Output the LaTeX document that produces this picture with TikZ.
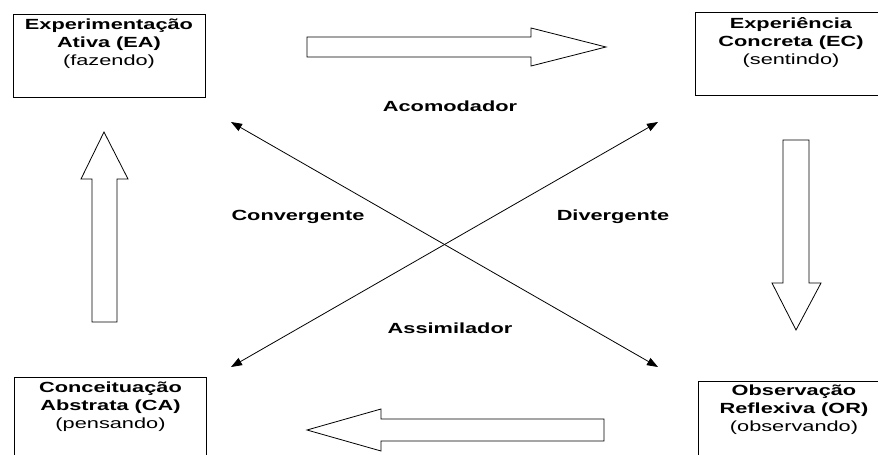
\documentclass[tikz,border=0pt]{standalone}
\usepackage{fontspec}
\setmainfont[FakeStretch=1.48]{Liberation Sans}
\usetikzlibrary{arrows.meta,positioning}

\begin{document}
\begin{tikzpicture}[x=1pt, y=-1pt,
  box/.style={draw, line width=0.8pt, minimum width=192pt, minimum height=83pt, inner sep=0pt},
  boxtext/.style={align=center, inner sep=0pt, font=\fontsize{14.7}{18}\selectfont},
  stage/.style={inner sep=0pt, font=\fontsize{14.7}{18}\selectfont\bfseries},
  bigarrow/.style={draw, line width=0.8pt, fill=white, line join=miter},
  diag/.style={{Triangle[length=11pt,width=8pt]}-{Triangle[length=11pt,width=8pt]}, line width=0.8pt}]
  \useasboundingbox (0,0) rectangle (878,455);

  % the four modes
  \node[box] (EA) at (109,55.5) {};
  \node[box] (EC) at (791,54) {};
  \node[box] (CA) at (110.5,418.5) {};
  \node[box] (OR) at (794,422.5) {};

  \node[boxtext, below=5.5pt of EA.north] (EAtxt) {\textbf{Experimentação}\\\textbf{Ativa (EA)}\\(fazendo)};
  \node[boxtext, below=5pt of EC.north] (ECtxt) {\textbf{Experiência}\\\textbf{Concreta (EC)}\\(sentindo)};
  \node[boxtext, below=5.5pt of CA.north] (CAtxt) {\textbf{Conceituação}\\\textbf{Abstrata (CA)}\\(pensando)};
  \node[boxtext, below=4.5pt of OR.north] (ORtxt) {\textbf{Observação}\\\textbf{Reflexiva (OR)}\\(observando)};

  % cycle arrows
  \draw[bigarrow] (307,37) -- (531,37) -- (531,28) -- (606,47) -- (531,66) -- (531,57) -- (307,57) -- cycle;
  \draw[bigarrow] (783,140) -- (809,140) -- (809,283) -- (821,283) -- (796,330) -- (772,283) -- (783,283) -- cycle;
  \draw[bigarrow] (604,419) -- (381,419) -- (381,409) -- (307,430) -- (381,451) -- (381,441) -- (604,441) -- cycle;
  \draw[bigarrow] (117,322) -- (117,179) -- (128,179) -- (104,132) -- (81,179) -- (92,179) -- (92,322) -- cycle;

  % learning styles
  \coordinate (nw) at (231,122);
  \coordinate (ne) at (658,122);
  \coordinate (sw) at (231,367);
  \coordinate (se) at (658,367);
  \draw[diag] (nw) -- (se);
  \draw[diag] (ne) -- (sw);

  \node[stage] (acom) at (450,106) {Acomodador};
  \node[stage] (conv) at (298,217) {Convergente};
  \node[stage] (div) at (613,217) {Divergente};
  \node[stage] (assim) at (450,328) {Assimilador};
\end{tikzpicture}
\end{document}
